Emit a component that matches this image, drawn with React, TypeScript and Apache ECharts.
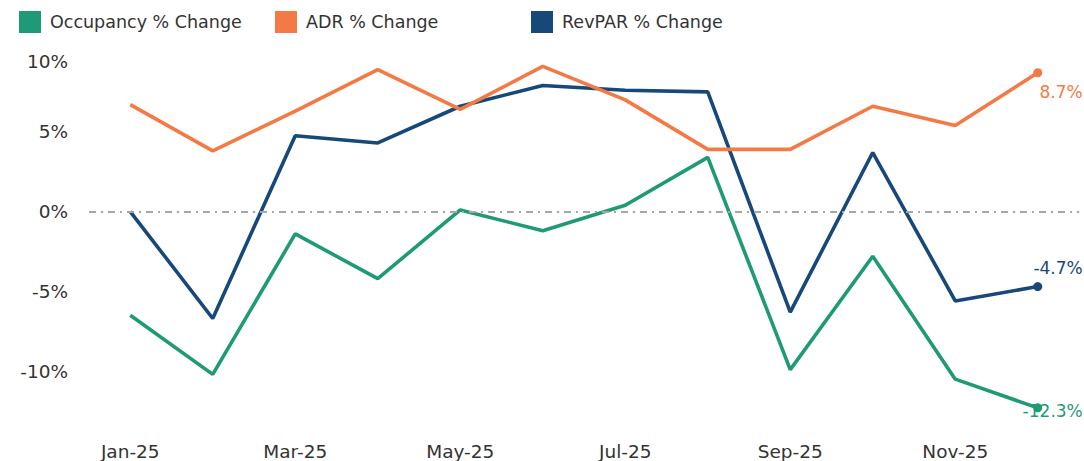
import React, { useEffect, useRef } from "react";
import * as echarts from "echarts";

const categories = ["Jan-25", "Feb-25", "Mar-25", "Apr-25", "May-25", "Jun-25", "Jul-25", "Aug-25", "Sep-25", "Oct-25", "Nov-25", "Dec-25"];
const occupancy = [-6.5, -10.2, -1.4, -4.2, 0.1, -1.2, 0.4, 3.4, -9.9, -2.8, -10.5, -12.3];
const adr = [6.7, 3.8, 6.3, 8.9, 6.4, 9.1, 7.0, 3.9, 3.9, 6.6, 5.4, 8.7];
const revpar = [0.0, -6.7, 4.75, 4.3, 6.6, 7.9, 7.6, 7.5, -6.3, 3.7, -5.6, -4.7];
const seriesNames = ["Occupancy % Change", "ADR % Change", "RevPAR % Change"];
const colors = ["#1f9a77", "#f47a45", "#17487a"];
const labelOffsets = [3, 19, -19];

const FONT = "DejaVu Sans";

export default function App() {
  const ref = useRef<HTMLDivElement>(null);
  useEffect(() => {
    document.body.style.margin = "0";
    const chart = echarts.init(ref.current!, null, { renderer: "svg" });
    const all = [occupancy, adr, revpar];
    const series = all.map((vals, si) => ({
      name: seriesNames[si],
      type: "line",
      symbol: "none",
      showSymbol: true,
      lineStyle: { width: 3.6, color: colors[si] },
      itemStyle: { color: colors[si] },
      z: 3 - si,
      data: vals.map((v, i) =>
        i === vals.length - 1
          ? {
              value: v,
              symbol: "circle",
              symbolSize: 9,
              label: {
                show: true,
                position: "inside",
                align: "right",
                verticalAlign: "middle",
                offset: [45, labelOffsets[si]],
                formatter: (p: any) => p.value.toFixed(1) + "%",
                color: colors[si],
                fontFamily: FONT,
                fontSize: 17,
              },
            }
          : v
      ),
      markLine:
        si === 0
          ? {
              silent: true,
              symbol: "none",
              label: { show: false },
              lineStyle: { color: "#a6a6a6", width: 2, type: [7, 5, 2, 5] },
              data: [{ yAxis: 0 }],
            }
          : undefined,
    }));
    const legends = seriesNames.map((n, i) => ({
      data: [n],
      left: 19 + i * 256,
      top: 11,
      padding: 0,
      itemWidth: 22,
      itemHeight: 22,
      icon: "rect",
      selectedMode: false,
      textStyle: { fontFamily: FONT, fontSize: 17.5, color: "#333", padding: [0, 0, 0, 4] },
    }));
    chart.setOption({
      animation: false,
      color: colors,
      legend: legends,
      grid: { left: 89, right: 5, top: 52, bottom: 25, containLabel: false },
      xAxis: {
        type: "category",
        data: categories,
        boundaryGap: true,
        axisLine: { show: false },
        axisTick: { show: false },
        axisLabel: { interval: 1, fontFamily: FONT, fontSize: 18.5, color: "#333", margin: 7 },
      },
      yAxis: {
        type: "value",
        min: -14,
        max: 10,
        interval: 1,
        splitLine: { show: false },
        axisLine: { show: false },
        axisTick: { show: false },
        axisLabel: {
          margin: 21,
          fontFamily: FONT,
          fontSize: 18.5,
          color: "#333",
          formatter: (v: number) => (v % 5 === 0 ? (v === 10 ? "{t|10%}" : v + "%") : ""),
          rich: { t: { fontFamily: FONT, fontSize: 18.5, color: "#333", padding: [18, 0, 0, 0] } },
        },
      },
      series,
    });
    return () => chart.dispose();
  }, []);
  return <div ref={ref} style={{ width: 1084, height: 461 }} />;
}
